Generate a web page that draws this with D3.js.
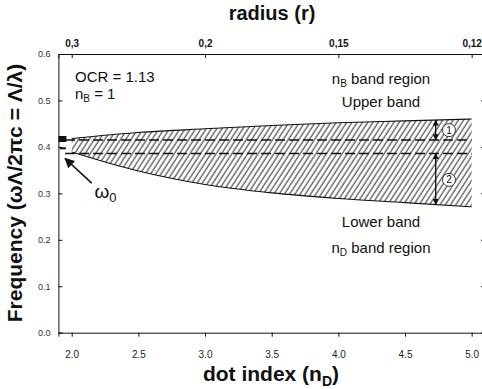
<!DOCTYPE html>
<html>
<head>
<meta charset="utf-8">
<script src="https://cdn.jsdelivr.net/npm/d3@7"></script>
<style>
body { margin: 0; background: white; }
text { font-family: "Liberation Sans", Arial, sans-serif; fill: #111; }
</style>
</head>
<body>
<svg id="chart"></svg>
<script>
var chart_w = 482;
var chart_h = 389;

// band edges
var dotIndex = [2.0, 2.5, 3.0, 3.5, 4.0, 4.5, 5.0];
var upperEdge = [0.418, 0.431, 0.439, 0.446, 0.452, 0.456, 0.460];
var lowerEdge = [0.389, 0.348, 0.319, 0.301, 0.289, 0.280, 0.271];

// dashed levels
var dashStart = 1.95, dashEnd = 5.0;
var dashLevels = [0.415, 0.386];

// omega_0 marks on the axis
var omegaX = 1.93;
var omegaMarks = [0.417, 0.397];

// double arrows (1) and (2)
var arrowX = 4.73;
var arrow1 = [0.458, 0.415];
var arrow2 = [0.386, 0.276];
var circleX = 4.83;
var circleY = [0.436, 0.329];
var circleTxt = ["1", "2"];

// ticks
var xTicks = [2.0, 2.5, 3.0, 3.5, 4.0, 4.5, 5.0];
var yTicks = [0.0, 0.1, 0.2, 0.3, 0.4, 0.5, 0.6];
var rTicks = [0.3, 0.2, 0.15, 0.12];
var rTickLabels = ["0,3", "0,2", "0,15", "0,12"];

var x = d3.scaleLinear().domain([1.9, 5.1]).range([58.4, 485]);
var y = d3.scaleLinear().domain([0, 0.6]).range([332.7, 54]);

var svg = d3.select("#chart").attr("width", chart_w).attr("height", chart_h);
svg.append("rect").attr("width", chart_w).attr("height", chart_h).attr("fill", "white");

var defs = svg.append("defs");
defs.append("pattern").attr("id", "hatch")
	.attr("patternUnits", "userSpaceOnUse")
	.attr("width", 4.4).attr("height", 10)
	.attr("patternTransform", "rotate(33)")
	.append("line")
	.attr("x1", 1).attr("y1", -1).attr("x2", 1).attr("y2", 11)
	.attr("stroke", "#111").attr("stroke-width", 0.9);

defs.append("marker").attr("id", "head")
	.attr("viewBox", "0 0 8 8").attr("refX", 7.5).attr("refY", 4)
	.attr("markerWidth", 6).attr("markerHeight", 6)
	.attr("markerUnits", "userSpaceOnUse")
	.attr("orient", "auto-start-reverse")
	.append("path").attr("d", "M0,0 L8,4 L0,8 z").attr("fill", "#111");

defs.append("marker").attr("id", "bighead")
	.attr("viewBox", "0 0 10 10").attr("refX", 9).attr("refY", 5)
	.attr("markerWidth", 10).attr("markerHeight", 10)
	.attr("markerUnits", "userSpaceOnUse")
	.attr("orient", "auto")
	.append("path").attr("d", "M0,0 L10,5 L0,10 z").attr("fill", "#111");

var band = dotIndex.map(function(d, i){ return {n: d, up: upperEdge[i], lo: lowerEdge[i]}; });

svg.append("path").datum(band)
	.attr("d", d3.area().x(function(d){ return x(d.n); })
		.y0(function(d){ return y(d.lo); })
		.y1(function(d){ return y(d.up); })
		.curve(d3.curveMonotoneX))
	.attr("fill", "url(#hatch)");

["up", "lo"].forEach(function(k){
	svg.append("path").datum(band)
		.attr("d", d3.line().x(function(d){ return x(d.n); })
			.y(function(d){ return y(d[k]); })
			.curve(d3.curveMonotoneX))
		.attr("fill", "none").attr("stroke", "#111").attr("stroke-width", 1.1);
});

dashLevels.forEach(function(v){
	svg.append("line")
		.attr("x1", x(dashStart)).attr("x2", x(dashEnd))
		.attr("y1", y(v)).attr("y2", y(v))
		.attr("stroke", "#111").attr("stroke-width", 1.5)
		.attr("stroke-dasharray", "10,4");
});

// marks at omega_0
svg.append("rect").attr("x", x(omegaX) - 4).attr("y", y(omegaMarks[0]) - 3)
	.attr("width", 8).attr("height", 6).attr("fill", "#111");
svg.append("rect").attr("x", x(omegaX) - 2.5).attr("y", y(omegaMarks[1]) - 1)
	.attr("width", 6).attr("height", 2).attr("fill", "#111");

// double arrows
[arrow1, arrow2].forEach(function(a){
	svg.append("line")
		.attr("x1", x(arrowX)).attr("x2", x(arrowX))
		.attr("y1", y(a[0])).attr("y2", y(a[1]))
		.attr("stroke", "#111").attr("stroke-width", 1.3)
		.attr("marker-start", "url(#head)").attr("marker-end", "url(#head)");
});

circleY.forEach(function(v, i){
	svg.append("circle").attr("cx", x(circleX)).attr("cy", y(v)).attr("r", 6.5)
		.attr("fill", "white").attr("stroke", "#222").attr("stroke-width", 0.9);
	svg.append("text").attr("x", x(circleX)).attr("y", y(v) + 3.6)
		.attr("text-anchor", "middle").style("font-size", "10px").text(circleTxt[i]);
});

// omega_0 arrow and label
svg.append("line")
	.attr("x1", x(2.15)).attr("y1", y(0.322))
	.attr("x2", x(1.95)).attr("y2", y(0.375))
	.attr("stroke", "#111").attr("stroke-width", 1.6)
	.attr("marker-end", "url(#bighead)");
var om = svg.append("text").attr("x", x(2.17)).attr("y", 198).style("font-size", "19px");
om.append("tspan").text("\u03c9");
om.append("tspan").attr("dy", 4).style("font-size", "13px").text("0");

// axes
var gx = svg.append("g").attr("transform", "translate(0," + y(0) + ")");
gx.call(d3.axisBottom(x).tickValues(x.ticks(32)).tickSize(3).tickFormat(""));
gx.call(d3.axisBottom(x).tickValues(xTicks).tickSize(4).tickPadding(14).tickFormat(d3.format(".1f")));

var gt = svg.append("g").attr("transform", "translate(0," + y(0.6) + ")");
gt.call(d3.axisTop(x).tickValues(x.ticks(32)).tickSize(-3).tickFormat(""));
gt.call(d3.axisTop(x).tickValues(rTicks.map(function(r){ return 0.6 / r; }))
	.tickSize(-4).tickPadding(7)
	.tickFormat(function(d, i){ return rTickLabels[i]; }));
gt.selectAll("text").style("font-weight", "bold");

var gy = svg.append("g").attr("transform", "translate(" + x(1.9) + ",0)");
gy.call(d3.axisLeft(y).tickValues(y.ticks(30)).tickSize(-2).tickFormat(""));
gy.call(d3.axisLeft(y).tickValues(yTicks).tickSize(-4).tickPadding(8).tickFormat(d3.format(".1f")));

var gr = svg.append("g").attr("transform", "translate(" + x(5.1) + ",0)");
gr.call(d3.axisRight(y).tickValues(yTicks).tickSize(-4).tickFormat(""));

svg.selectAll(".domain").attr("stroke", "#111").attr("stroke-width", 1);
svg.selectAll(".tick line").attr("stroke", "#111");
gx.selectAll("text").style("font-size", "10px").style("fill", "#222");
gt.selectAll("text").style("font-size", "10px").style("fill", "#111");
gy.selectAll("text").style("font-size", "9px").style("fill", "#333");

// axis titles
svg.append("text").attr("x", 272).attr("y", 20).attr("text-anchor", "middle")
	.style("font-size", "20px").style("font-weight", "bold").text("radius (r)");

var xt = svg.append("text").attr("x", 271).attr("y", 381).attr("text-anchor", "middle")
	.style("font-size", "21px").style("font-weight", "bold");
xt.append("tspan").text("dot index (n");
xt.append("tspan").attr("dy", 5).style("font-size", "14px").text("D");
xt.append("tspan").attr("dy", -5).text(")");

svg.append("text").attr("transform", "translate(22,193) rotate(-90)")
	.attr("text-anchor", "middle")
	.style("font-size", "21px").style("font-weight", "bold")
	.text("Frequency (\u03c9\u039b/2\u03c0c = \u039b/\u03bb)");

// annotations
svg.append("text").attr("x", 75).attr("y", 82).style("font-size", "15px").text("OCR = 1.13");
var nb = svg.append("text").attr("x", 75).attr("y", 99).style("font-size", "15px");
nb.append("tspan").text("n");
nb.append("tspan").attr("dy", 3).style("font-size", "10px").text("B");
nb.append("tspan").attr("dy", -3).text(" = 1");

function regionLabel(sub, yy){
	var t = svg.append("text").attr("x", 381).attr("y", yy).attr("text-anchor", "middle")
		.style("font-size", "15px");
	t.append("tspan").text("n");
	t.append("tspan").attr("dy", 3).style("font-size", "10px").text(sub);
	t.append("tspan").attr("dy", -3).text(" band region");
}
regionLabel("B", 84);
svg.append("text").attr("x", 381).attr("y", 107).attr("text-anchor", "middle")
	.style("font-size", "15px").text("Upper band");
svg.append("text").attr("x", 381).attr("y", 227).attr("text-anchor", "middle")
	.style("font-size", "15px").text("Lower band");
regionLabel("D", 253);
</script>
</body>
</html>
